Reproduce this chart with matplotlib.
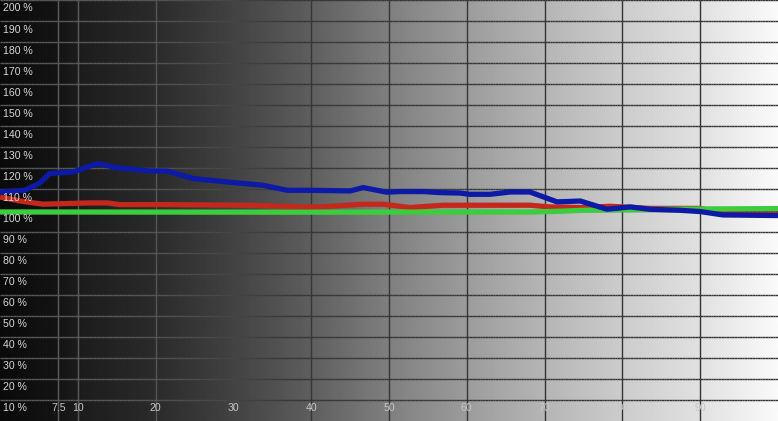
import numpy as np
import matplotlib
matplotlib.use("Agg")
import matplotlib.pyplot as plt
from matplotlib.collections import LineCollection

# readings (x = stimulus %, y = % of target)
blue_x = [0, 3.2, 5.1, 6.4, 9.4, 12.5, 15.4, 19.3, 21.5, 24.8, 29.9, 33.8, 36.9,
          39.8, 45, 46.7, 49.7, 51.4, 54.4, 56.6, 59.1, 60.4, 63, 65.6, 68.1,
          71.6, 74.6, 78, 81, 83.5, 87.4, 90, 92.9, 100]
blue_y = [108.8, 109.6, 113, 117.6, 118.3, 122.3, 120.1, 118.8, 118.7, 115.2,
          113.3, 112, 109.6, 109.6, 109.3, 110.9, 108.7, 109, 109, 108.5, 108.3,
          107.7, 107.7, 108.8, 108.8, 104.1, 104.5, 100.6, 101.7, 100.6, 100.1,
          99.5, 97.9, 97.6]

red_x = [0, 2.6, 5.5, 11.6, 13.8, 15.4, 20.6, 32.1, 38.6, 41.1, 46.7, 49.2,
         52.7, 56.9, 59.1, 68.1, 70.7, 74.9, 78.4, 83.5, 90, 92.5, 95.1, 100]
red_y = [106.4, 104.5, 103, 103.6, 103.6, 102.8, 102.8, 102.5, 101.7, 101.7,
         103, 103, 101.4, 102.5, 102.5, 102.5, 101.7, 101.4, 102, 101, 101,
         99, 98.2, 98.2]

green_x = [0, 38.6, 68.1, 71.6, 74.9, 78.4, 83.5, 88.7, 100]
green_y = [99.3, 99.2, 99.3, 99.6, 100.1, 100.3, 100.5, 100.7, 100.9]

y_ticks = list(range(10, 210, 10))
x_ticks = [7.5, 10, 20, 30, 40, 50, 60, 70, 80, 90]
x_labels = ["7.5", "10", "20", "30", "40", "50", "60", "70", "80", "90"]

# background grey level across the width
ramp_x = [0, 7.5, 10, 20, 30, 40, 50, 60, 70, 80, 90, 100]
ramp_v = [0.04, 0.08, 0.11, 0.17, 0.26, 0.37, 0.5, 0.61, 0.71, 0.8, 0.88, 0.98]


def bg_level(x):
    return np.interp(x, ramp_x, ramp_v)


def grid_level(x):
    b = bg_level(x)
    return np.interp(b, [0.0, 0.14, 0.34, 1.0], [0.36, 0.36, 0.21, 0.2])


def main():
    plt.rcParams["font.family"] = ["Liberation Sans", "DejaVu Sans"]
    fig = plt.figure(figsize=(7.78, 4.21), dpi=100)
    ax = fig.add_axes([0, 0, 1, 1])
    ax.set_xlim(0, 100)
    ax.set_ylim(0, 200)
    ax.axis("off")

    # horizontal black-to-white ramp
    ramp = bg_level(np.linspace(0, 100, 800))[None, :]
    ax.imshow(ramp, cmap="gray", vmin=0, vmax=1, aspect="auto",
              extent=[0, 100, 0, 200], zorder=0)

    # grid lines, lighter on the dark side, darker on the bright side
    xs = np.linspace(0, 100, 301)
    segs, cols = [], []
    for v in y_ticks:
        for a, b in zip(xs[:-1], xs[1:]):
            segs.append([(a, v), (b, v)])
            g = float(grid_level((a + b) / 2))
            cols.append((g, g, g))
    for t in x_ticks:
        segs.append([(t, 0), (t, 200)])
        g = float(grid_level(t))
        cols.append((g, g, g))
    ax.add_collection(LineCollection(segs, colors=cols, linewidths=1.0, zorder=1))

    ax.plot(red_x, red_y, color="#c4281c", lw=3.8, zorder=3,
            solid_capstyle="butt")
    ax.plot(green_x, green_y, color="#3ccc3c", lw=3.8, zorder=4,
            solid_capstyle="butt")
    ax.plot(blue_x, blue_y, color="#0c1aa6", lw=3.8, zorder=5,
            solid_capstyle="butt")

    for v in y_ticks:
        ax.annotate("%d %%" % v, (0, v), xytext=(2, -2.5),
                    textcoords="offset points", ha="left", va="top",
                    fontsize=7.6, color="#d8d8d8", zorder=6)
    for t, lab in zip(x_ticks, x_labels):
        ax.text(t, 6.2, lab, ha="center", va="center", fontsize=7.6,
                color="#c8c8c8", zorder=6)

    fig.savefig("out.png", dpi=100)


if __name__ == "__main__":
    main()
